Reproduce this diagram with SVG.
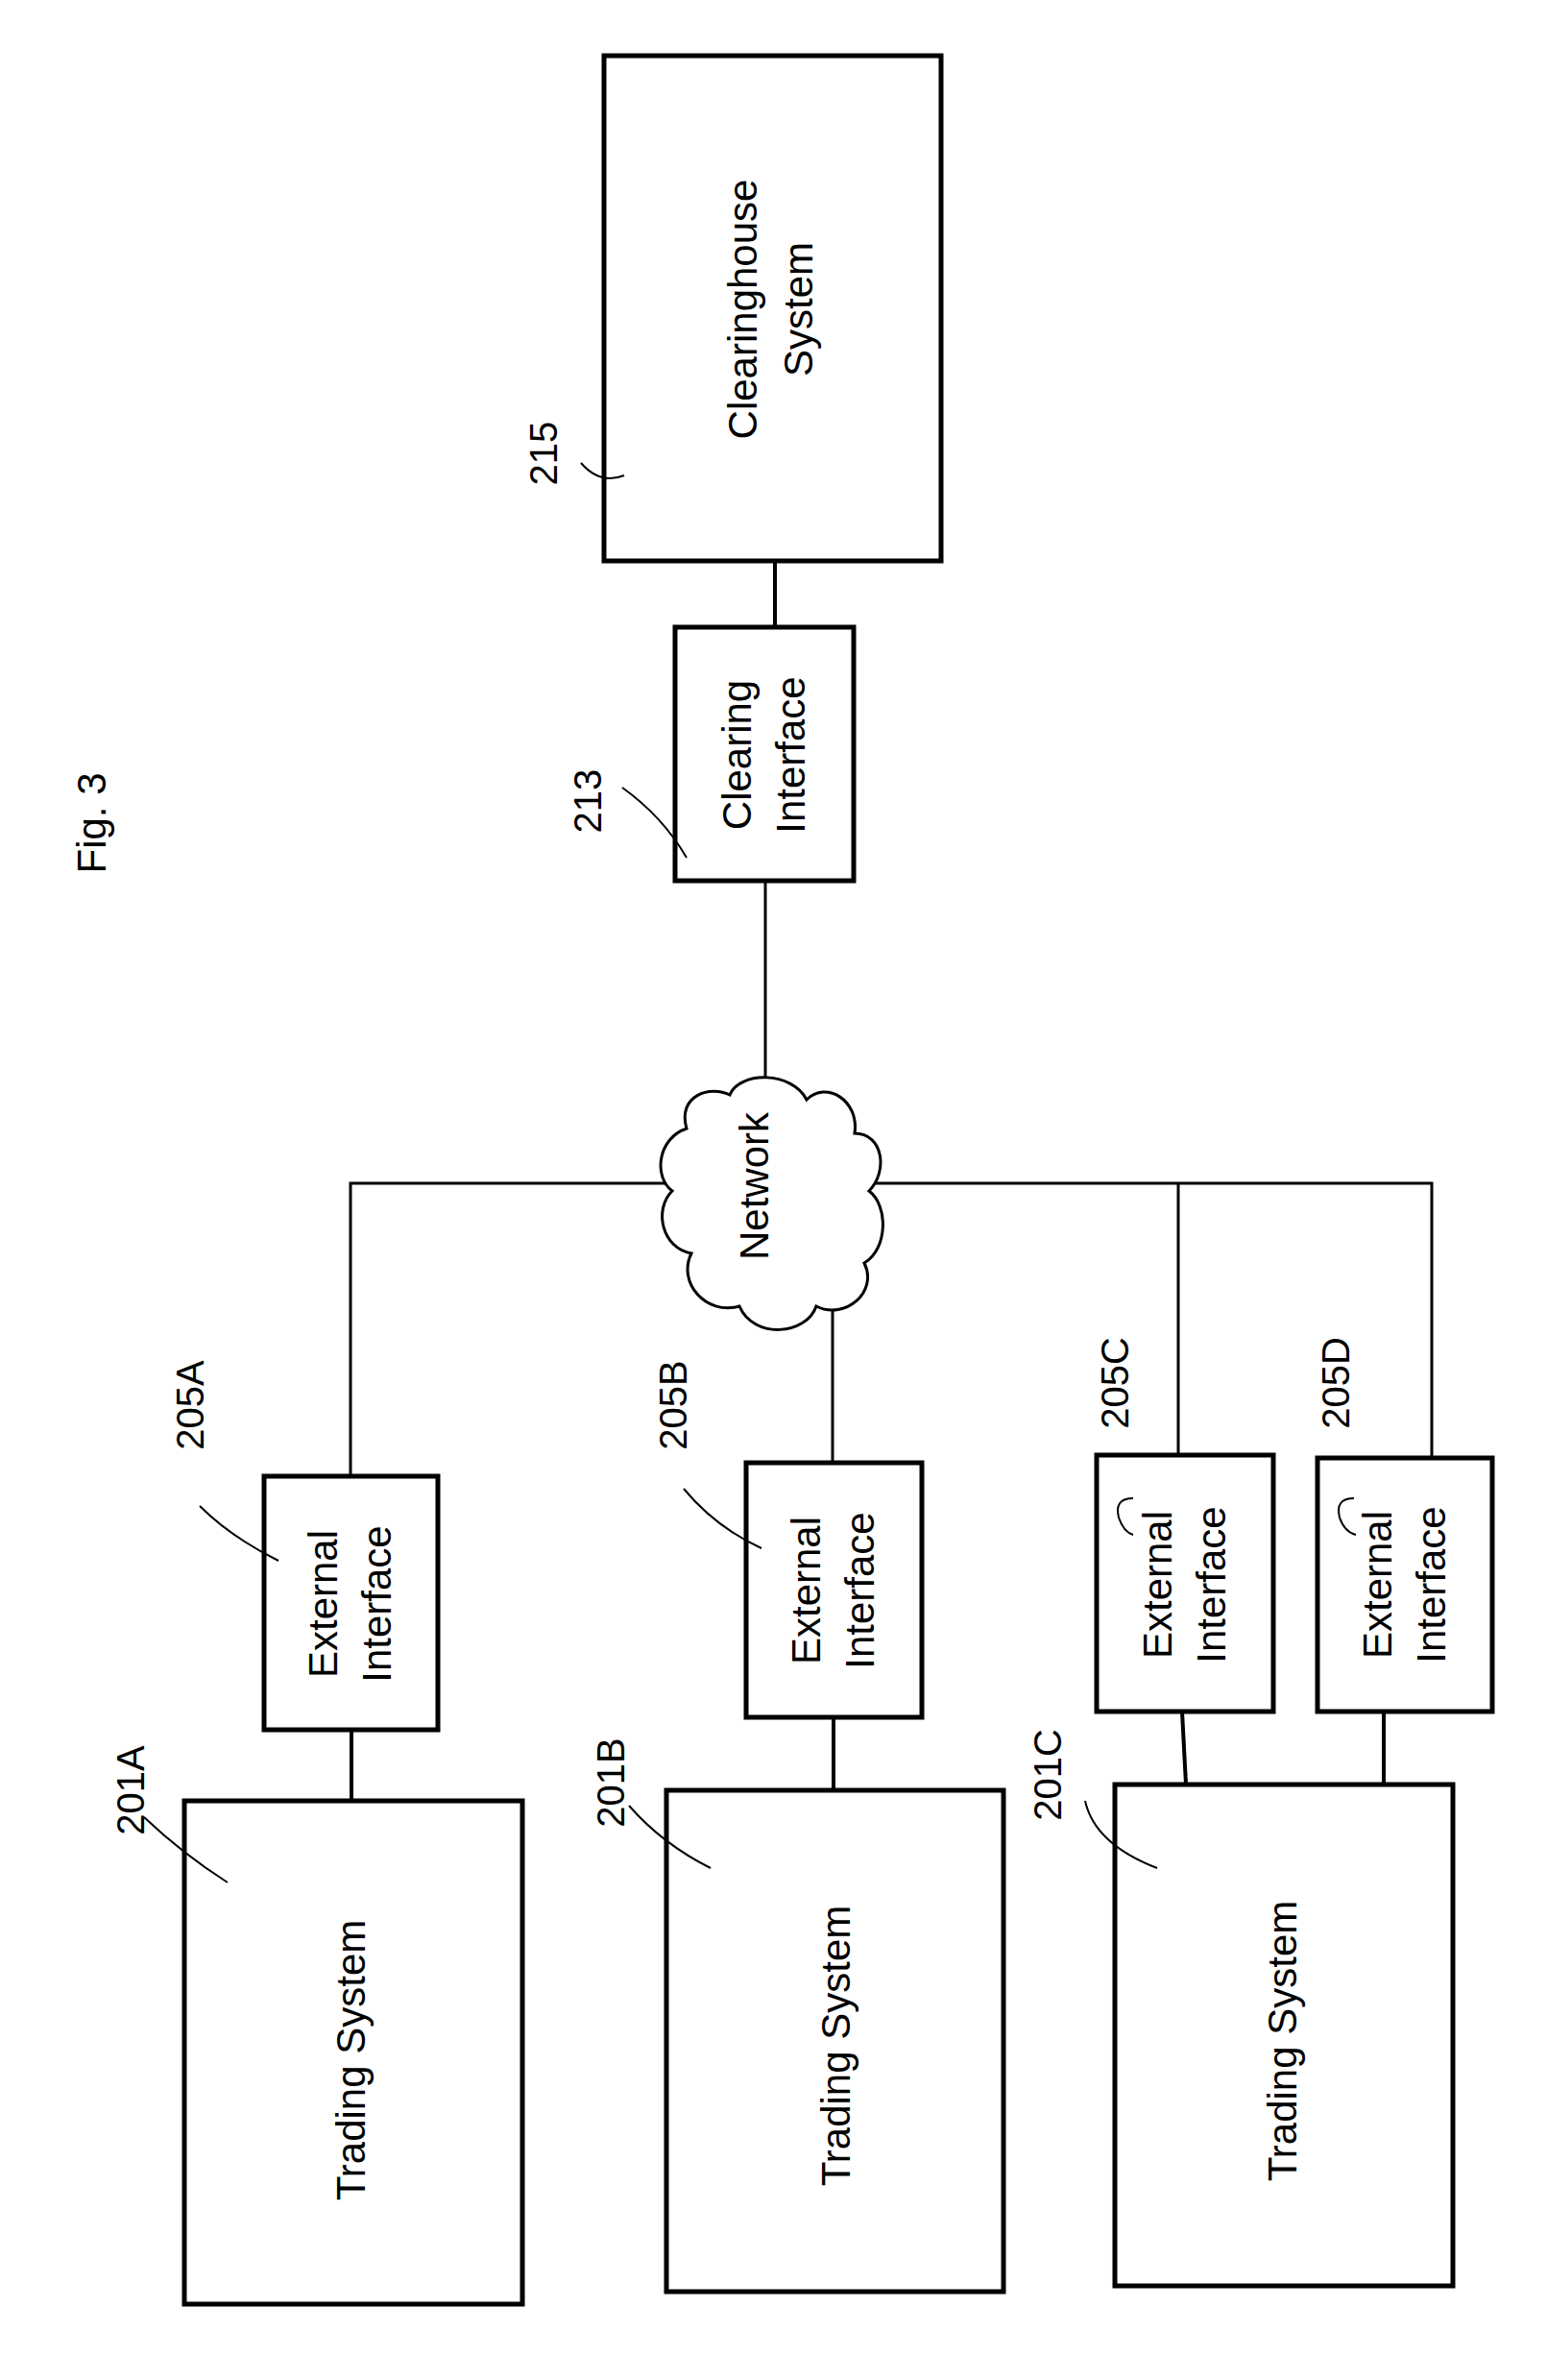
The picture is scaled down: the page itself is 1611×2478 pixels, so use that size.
<svg xmlns="http://www.w3.org/2000/svg" width="1611" height="2478" viewBox="0 0 1611 2478">
<style>
.b{fill:#fff;stroke:#000;stroke-width:5}
.l{stroke:#000;stroke-width:3;fill:none}
.t{font-family:"Liberation Sans",Arial,sans-serif;font-size:42px;text-anchor:middle;fill:#000}
.n{font-family:"Liberation Sans",Arial,sans-serif;font-size:40px;text-anchor:middle;fill:#000}
</style>
<rect width="1611" height="2478" fill="#fff"/>
<text class="t" font-size="46" transform="translate(110,857) rotate(-90)">Fig. 3</text>
<g id="connectors">
<line class="l" x1="807" y1="584" x2="807" y2="653" style="stroke-width:4"/>
<line class="l" x1="797" y1="917" x2="797" y2="1140"/>
<polyline class="l" points="365,1537 365,1232 1491,1232 1491,1518"/>
<line class="l" x1="1227" y1="1232" x2="1227" y2="1515"/>
<line class="l" x1="867" y1="1353" x2="867" y2="1523"/>
<line class="l" x1="366" y1="1801" x2="366" y2="1875" style="stroke-width:4"/>
<line class="l" x1="868" y1="1788" x2="868" y2="1864" style="stroke-width:4"/>
<line class="l" x1="1231" y1="1782" x2="1235" y2="1858" style="stroke-width:4"/>
<line class="l" x1="1441" y1="1782" x2="1441" y2="1858" style="stroke-width:4"/>
</g>
<g id="n215">
<rect class="b" x="629" y="58" width="351" height="526"/>
<text class="t" transform="translate(802,322) rotate(-90)"><tspan x="0" y="-14">Clearinghouse</tspan><tspan x="0" y="44">System</tspan></text>
<text class="n" transform="translate(580,472) rotate(-90)">215</text>
<path class="l" d="M605,482 Q625,505 650,495" style="stroke-width:2"/>
</g>
<g id="n213">
<rect class="b" x="703" y="653" width="186" height="264"/>
<text class="t" transform="translate(796,786) rotate(-90)"><tspan x="0" y="-14">Clearing</tspan><tspan x="0" y="42">Interface</tspan></text>
<text class="n" transform="translate(626,834) rotate(-90)">213</text>
<path class="l" d="M648,820 Q690,850 715,893" style="stroke-width:2"/>
</g>
<g id="network">
<path class="b" style="stroke-width:3" d="M760,1140 C740,1130 705,1140 715,1175 C685,1185 680,1225 700,1240 C680,1260 690,1300 720,1305 C705,1335 735,1370 770,1360 C785,1395 840,1390 850,1360 C880,1375 915,1345 900,1315 C925,1300 925,1255 905,1240 C925,1220 920,1180 890,1180 C895,1145 860,1125 840,1145 C825,1115 770,1115 760,1140 Z"/>
<text class="t" transform="translate(800,1235) rotate(-90)">Network</text>
</g>
<g id="n205A">
<rect class="b" x="275" y="1537" width="181" height="264"/>
<text class="t" transform="translate(365,1670) rotate(-90)"><tspan x="0" y="-14">External</tspan><tspan x="0" y="42">Interface</tspan></text>
<text class="n" transform="translate(212,1463) rotate(-90)">205A</text>
<path class="l" d="M208,1568 Q240,1600 290,1625" style="stroke-width:2"/>
</g>
<g id="n205B">
<rect class="b" x="777" y="1523" width="183" height="265"/>
<text class="t" transform="translate(868,1656) rotate(-90)"><tspan x="0" y="-14">External</tspan><tspan x="0" y="42">Interface</tspan></text>
<text class="n" transform="translate(715,1463) rotate(-90)">205B</text>
<path class="l" d="M712,1550 Q745,1590 793,1612" style="stroke-width:2"/>
</g>
<g id="n205C">
<rect class="b" x="1142" y="1515" width="184" height="267"/>
<text class="t" transform="translate(1234,1650) rotate(-90)"><tspan x="0" y="-14">External</tspan><tspan x="0" y="42">Interface</tspan></text>
<text class="n" transform="translate(1175,1440) rotate(-90)">205C</text>
<path class="l" d="M1180,1560 Q1160,1560 1165,1580 Q1170,1595 1180,1598" style="stroke-width:2"/>
</g>
<g id="n205D">
<rect class="b" x="1372" y="1518" width="182" height="264"/>
<text class="t" transform="translate(1463,1650) rotate(-90)"><tspan x="0" y="-14">External</tspan><tspan x="0" y="42">Interface</tspan></text>
<text class="n" transform="translate(1405,1440) rotate(-90)">205D</text>
<path class="l" d="M1410,1560 Q1390,1560 1395,1580 Q1400,1595 1412,1598" style="stroke-width:2"/>
</g>
<g id="n201A">
<rect class="b" x="192" y="1875" width="352" height="524"/>
<text class="t" transform="translate(380,2145) rotate(-90)">Trading System</text>
<text class="n" transform="translate(150,1864) rotate(-90)">201A</text>
<path class="l" d="M150,1892 Q190,1930 237,1960" style="stroke-width:2"/>
</g>
<g id="n201B">
<rect class="b" x="694" y="1864" width="351" height="522"/>
<text class="t" transform="translate(885,2130) rotate(-90)">Trading System</text>
<text class="n" transform="translate(650,1856) rotate(-90)">201B</text>
<path class="l" d="M655,1880 Q690,1920 740,1945" style="stroke-width:2"/>
</g>
<g id="n201C">
<rect class="b" x="1161" y="1858" width="352" height="522"/>
<text class="t" transform="translate(1350,2125) rotate(-90)">Trading System</text>
<text class="n" transform="translate(1105,1848) rotate(-90)">201C</text>
<path class="l" d="M1130,1875 Q1140,1920 1205,1945" style="stroke-width:2"/>
</g>
</svg>
